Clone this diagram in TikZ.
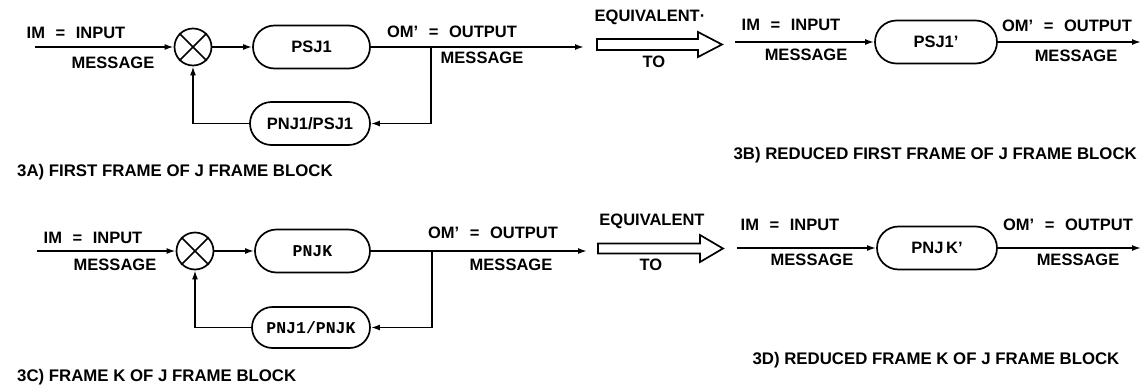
\documentclass[tikz,border=0pt]{standalone}
\usepackage{fontspec}
\setmainfont{Liberation Sans}
\newfontfamily\typewriter{Liberation Mono}
\usetikzlibrary{shapes.misc,arrows.meta}
% wider spacing round the equals sign in the signal labels
\newcommand{\eqsp}{\hspace{6pt} = \hspace{6pt}}

\begin{document}
\begin{tikzpicture}[x=1pt,y=-1pt,
  every node/.style={inner sep=0pt},
  lbl/.style={font=\fontsize{16.5}{18}\selectfont\bfseries},
  figcaption/.style={font=\fontsize{16.8}{18}\selectfont\bfseries},
  wire/.style={line width=1.7pt},
  arr/.style={wire,-{Latex[length=9pt,width=6pt]}},
  blockbox/.style={draw,line width=1.7pt,rounded rectangle,minimum height=43pt,
    font=\fontsize{16.5}{18}\selectfont\bfseries},
  twbox/.style={blockbox,font=\fontsize{16.5}{18}\selectfont\typewriter\bfseries},
  summer/.style={draw,line width=1.7pt,circle,minimum size=37pt},
  hollow/.style={draw,line width=1.7pt,line join=miter}]
\useasboundingbox (0,0) rectangle (1141,386);

% ---------- 3A: first frame with feedback ----------
\coordinate (inA) at (35,47);
\node[summer] (sumA) at (193,47) {};
\draw[wire] (sumA.north east) -- (sumA.south west)
            (sumA.north west) -- (sumA.south east);
\node[blockbox,minimum width=117pt] (psjA) at (311.5,47) {PSJ1};
\node[blockbox,minimum width=120pt] (fbA) at (310,123.5) {PNJ1/PSJ1};
\coordinate (brA) at (431,47);
\coordinate (outA) at (584,47);
\draw[arr] (inA) -- (sumA);
\draw[arr] (sumA) -- (psjA);
\draw[wire] (psjA.east) -- (brA);
\draw[arr] (brA) -- (outA);
\draw[arr] (brA) |- (fbA.east);
\draw[arr] (fbA.west) -| (sumA.south);
\node[lbl] (imA) at (76,33) {IM\eqsp INPUT};
\node[lbl] (msgA1) at (113,63) {MESSAGE};
\node[lbl] (omA) at (452,32) {OM’\eqsp OUTPUT};
\node[lbl] (msgA2) at (482,58) {MESSAGE};
\node[figcaption,anchor=west] (capA) at (17,172) {3A) FIRST FRAME OF J FRAME BLOCK};

% equivalence arrow, top row
\draw[hollow] (597,39) -- (698,39) -- (698,32) -- (722,44.5) -- (698,57) -- (698,50) -- (597,50) -- cycle;
\node[lbl] (eqA) at (650,17) {EQUIVALENT·};
\node[lbl] (toA) at (654,62) {TO};

% ---------- 3B: reduced first frame ----------
\coordinate (inB) at (735,42);
\node[blockbox,minimum width=122pt] (psjB) at (936,42) {PSJ1’};
\coordinate (outB) at (1141,42);
\draw[arr] (inB) -- (psjB);
\draw[arr] (psjB) -- (outB);
\node[lbl] (imB) at (791,25) {IM\eqsp INPUT};
\node[lbl] (msgB1) at (806,55) {MESSAGE};
\node[lbl] (omB) at (1067,26) {OM’\eqsp OUTPUT};
\node[lbl] (msgB2) at (1076,56) {MESSAGE};
\node[figcaption,anchor=east] (capB) at (1137,155) {3B) REDUCED FIRST FRAME OF J FRAME BLOCK};

% ---------- 3C: frame K with feedback ----------
\coordinate (inC) at (37,251);
\node[summer] (sumC) at (195,251) {};
\draw[wire] (sumC.north east) -- (sumC.south west)
            (sumC.north west) -- (sumC.south east);
\node[twbox,minimum width=115pt] (pnjC) at (312.5,251) {PNJK};
\node[twbox,minimum width=118pt,minimum height=41pt] (fbC) at (311,327.5) {PNJ1/PNJK};
\coordinate (brC) at (432,251);
\coordinate (outC) at (587,251);
\draw[arr] (inC) -- (sumC);
\draw[arr] (sumC) -- (pnjC);
\draw[wire] (pnjC.east) -- (brC);
\draw[arr] (brC) -- (outC);
\draw[arr] (brC) |- (fbC.east);
\draw[arr] (fbC.west) -| (sumC.south);
\node[lbl] (imC) at (93,238) {IM\eqsp INPUT};
\node[lbl] (msgC1) at (115,265) {MESSAGE};
\node[lbl] (omC) at (493,233) {OM’\eqsp OUTPUT};
\node[lbl] (msgC2) at (511,265) {MESSAGE};
\node[figcaption,anchor=west] (capC) at (17,377) {3C) FRAME K OF J FRAME BLOCK};

% equivalence arrow, bottom row
\draw[hollow] (598,243.5) -- (700,243.5) -- (700,235) -- (723,248.5) -- (700,262) -- (700,253.5) -- (598,253.5) -- cycle;
\node[lbl] (eqC) at (652,221) {EQUIVALENT};
\node[lbl] (toC) at (651,265) {TO};

% ---------- 3D: reduced frame K ----------
\coordinate (inD) at (737,248);
\node[blockbox,minimum width=120pt] (pnjD) at (937,248) {PNJ\,K’};
\coordinate (outD) at (1141,248);
\draw[arr] (inD) -- (pnjD);
\draw[arr] (pnjD) -- (outD);
\node[lbl] (imD) at (790,225) {IM\eqsp INPUT};
\node[lbl] (msgD1) at (812,260) {MESSAGE};
\node[lbl] (omD) at (1068,225) {OM’\eqsp OUTPUT};
\node[lbl] (msgD2) at (1078,260) {MESSAGE};
\node[figcaption] (capD) at (936,360) {3D) REDUCED FRAME K OF J FRAME BLOCK};
\end{tikzpicture}
\end{document}
